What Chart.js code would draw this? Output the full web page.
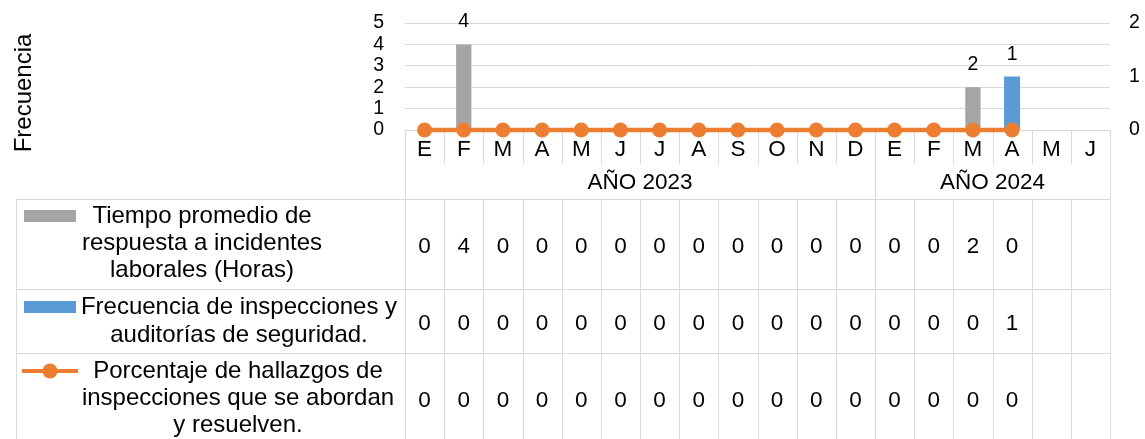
<!DOCTYPE html>
<html lang="es">
<head>
<meta charset="UTF-8">
<title>Frecuencia</title>
<script src="https://cdn.jsdelivr.net/npm/chart.js"></script>
<style>
  html, body { margin: 0; padding: 0; background: #fff; }
  #wrap { width: 1145px; height: 439px; position: relative; }
</style>
</head>
<body>
<div id="wrap"><canvas id="myChart"></canvas></div>
<script>
// categorías: meses y años
const meses = ['E','F','M','A','M','J','J','A','S','O','N','D','E','F','M','A','M','J'];
const anios = ['AÑO 2023', 'AÑO 2024'];
const mesesPorAnio = [12, 6];

// series (null = celda vacía en la tabla)
const tiempoRespuesta  = [0,4,0,0,0,0,0,0,0,0,0,0,0,0,2,0,null,null];
const frecInspecciones = [0,0,0,0,0,0,0,0,0,0,0,0,0,0,0,1,null,null];
const porcHallazgos    = [0,0,0,0,0,0,0,0,0,0,0,0,0,0,0,0,null,null];

// nombres de las series, cortados en líneas como en la tabla
const nombreTiempo = ['Tiempo promedio de', 'respuesta a incidentes', 'laborales (Horas)'];
const nombreFrec   = ['Frecuencia de inspecciones y', 'auditorías de seguridad.'];
const nombrePorc   = ['Porcentaje de hallazgos de', 'inspecciones que se abordan', 'y resuelven.'];

// ejes
const ticksIzq = [0, 1, 2, 3, 4, 5];
const ticksDer = [0, 1, 2];
const tituloEje = 'Frecuencia';

const FUENTE = "'Liberation Sans', Arial, sans-serif";
const GRIS_LINEA = '#d9d9d9';
const colores = ['#A5A5A5', '#5B9BD5', '#ED7D31'];

// filas de la tabla: alto, líneas base del texto y centro del texto de la leyenda
const filas = [
  { alto: 90, base: 54, lineas: [24, 51, 78], cx: 202, tipo: 'barra' },
  { alto: 64, base: 41, lineas: [25, 53],     cx: 239, tipo: 'barra' },
  { alto: 93, base: 54, lineas: [25, 52, 79], cx: 238, tipo: 'linea' }
];

const tablaDatos = {
  id: 'tablaDatos',
  beforeDatasetsDraw(chart) {
    const ctx = chart.ctx, a = chart.chartArea, x = chart.scales.x;
    const paso = x.getPixelForValue(1) - x.getPixelForValue(0);
    const borde = i => Math.round(x.getPixelForValue(0) - paso / 2 + i * paso) + 0.5;
    const yMes = a.bottom, yAnio = a.bottom + 34, yTabla = a.bottom + 69;
    const fondo = chart.height;
    const izq = 16.5;

    ctx.save();
    ctx.strokeStyle = GRIS_LINEA;
    ctx.lineWidth = 1;
    ctx.beginPath();
    // separadores de meses y años
    const cortes = [];
    let acc = 0;
    mesesPorAnio.forEach(n => { acc += n; cortes.push(acc); });
    for (let i = 0; i <= meses.length; i++) {
      const bx = borde(i);
      if (i === 0 || i === meses.length) {
        ctx.moveTo(bx, yMes); ctx.lineTo(bx, fondo);
      } else {
        ctx.moveTo(bx, yMes); ctx.lineTo(bx, cortes.includes(i) ? yTabla : yAnio);
        ctx.moveTo(bx, yTabla); ctx.lineTo(bx, fondo);
      }
    }
    // borde izquierdo de la tabla
    ctx.moveTo(izq, yTabla); ctx.lineTo(izq, fondo);
    // horizontales
    let y = yTabla;
    filas.forEach(f => {
      const yy = Math.round(y) + 0.5;
      ctx.moveTo(izq, yy); ctx.lineTo(borde(meses.length), yy);
      y += f.alto;
    });
    ctx.stroke();
    ctx.restore();
  },
  afterDraw(chart) {
    const ctx = chart.ctx, a = chart.chartArea, x = chart.scales.x;
    const yAnio = a.bottom + 34, yTabla = a.bottom + 69;

    ctx.save();
    ctx.fillStyle = '#000';
    ctx.textAlign = 'center';
    ctx.textBaseline = 'alphabetic';

    // meses
    ctx.font = '22.5px ' + FUENTE;
    meses.forEach((m, i) => ctx.fillText(m, x.getPixelForValue(i), a.bottom + 26));

    // años
    let ini = 0;
    anios.forEach((t, k) => {
      const fin = ini + mesesPorAnio[k];
      const cx = (x.getPixelForValue(ini) + x.getPixelForValue(fin - 1)) / 2;
      ctx.fillText(t, cx, yAnio + 25);
      ini = fin;
    });

    // filas de la tabla
    let y = yTabla;
    chart.data.datasets.forEach((ds, r) => {
      const f = filas[r];
      ctx.font = '22.5px ' + FUENTE;
      ctx.textAlign = 'center';
      ctx.fillStyle = '#000';
      ds.data.forEach((v, i) => {
        if (v !== null) ctx.fillText(String(v), x.getPixelForValue(i), y + f.base);
      });
      // clave de la leyenda
      const ky = y + f.lineas[0] - 7;
      if (f.tipo === 'barra') {
        ctx.fillStyle = ds.backgroundColor;
        ctx.fillRect(24, ky - 6, 52, 12);
      } else {
        ctx.strokeStyle = ds.borderColor;
        ctx.lineWidth = 4;
        ctx.beginPath(); ctx.moveTo(22, ky); ctx.lineTo(78, ky); ctx.stroke();
        ctx.fillStyle = ds.borderColor;
        ctx.beginPath(); ctx.arc(50, ky, 7.5, 0, Math.PI * 2); ctx.fill();
      }
      // texto de la leyenda
      ctx.fillStyle = '#000';
      ctx.font = '24px ' + FUENTE;
      ds.lineas.forEach((t, j) => ctx.fillText(t, f.cx, y + f.lineas[j]));
      y += f.alto;
    });

    // etiquetas de datos sobre las barras
    ctx.font = '19.5px ' + FUENTE;
    ctx.fillStyle = '#000';
    [0, 1].forEach(d => {
      const meta = chart.getDatasetMeta(d);
      meta.data.forEach((el, i) => {
        const v = chart.data.datasets[d].data[i];
        if (v) ctx.fillText(String(v), el.x, el.y - 17);
      });
    });

    // título del eje
    ctx.font = '24px ' + FUENTE;
    ctx.translate(31, 93);
    ctx.rotate(-Math.PI / 2);
    ctx.fillText(tituloEje, 0, 0);
    ctx.restore();
  }
};

const ctx = document.getElementById('myChart').getContext('2d');
new Chart(ctx, {
  type: 'bar',
  data: {
    labels: meses,
    datasets: [
      {
        label: nombreTiempo.join(' '),
        lineas: nombreTiempo,
        data: tiempoRespuesta,
        backgroundColor: colores[0],
        yAxisID: 'y',
        grouped: false,
        barPercentage: 0.39,
        categoryPercentage: 1,
        order: 2
      },
      {
        label: nombreFrec.join(' '),
        lineas: nombreFrec,
        data: frecInspecciones,
        backgroundColor: colores[1],
        yAxisID: 'y1',
        grouped: false,
        barPercentage: 0.41,
        categoryPercentage: 1,
        order: 1
      },
      {
        type: 'line',
        label: nombrePorc.join(' '),
        lineas: nombrePorc,
        data: porcHallazgos,
        borderColor: colores[2],
        backgroundColor: colores[2],
        borderWidth: 4.5,
        pointRadius: 7.5,
        pointHoverRadius: 7.5,
        pointBorderWidth: 0,
        pointBackgroundColor: colores[2],
        yAxisID: 'y',
        clip: false,
        order: 0
      }
    ]
  },
  options: {
    responsive: true,
    maintainAspectRatio: false,
    animation: false,
    layout: { padding: { top: 23, bottom: 309, left: 0, right: 0 } },
    plugins: {
      legend: { display: false },
      tooltip: { enabled: false }
    },
    scales: {
      x: {
        ticks: { display: false },
        grid: { display: false },
        border: { display: false },
        afterFit(s) { s.height = 0; }
      },
      y: {
        position: 'left',
        min: ticksIzq[0],
        max: ticksIzq[ticksIzq.length - 1],
        ticks: { stepSize: 1, autoSkip: false, padding: 21, color: '#000', font: { family: FUENTE, size: 19.5 } },
        grid: { color: GRIS_LINEA, lineWidth: 1, drawTicks: false },
        border: { display: false },
        afterFit(s) { s.width = 405; s.paddingTop = 0; s.paddingBottom = 0; }
      },
      y1: {
        position: 'right',
        min: ticksDer[0],
        max: ticksDer[ticksDer.length - 1],
        ticks: { stepSize: 1, autoSkip: false, padding: 19, color: '#000', font: { family: FUENTE, size: 19.5 } },
        grid: { drawOnChartArea: false, drawTicks: false },
        border: { display: false },
        afterFit(s) { s.width = 35; s.paddingTop = 0; s.paddingBottom = 0; }
      }
    }
  },
  plugins: [tablaDatos]
});
</script>
</body>
</html>
